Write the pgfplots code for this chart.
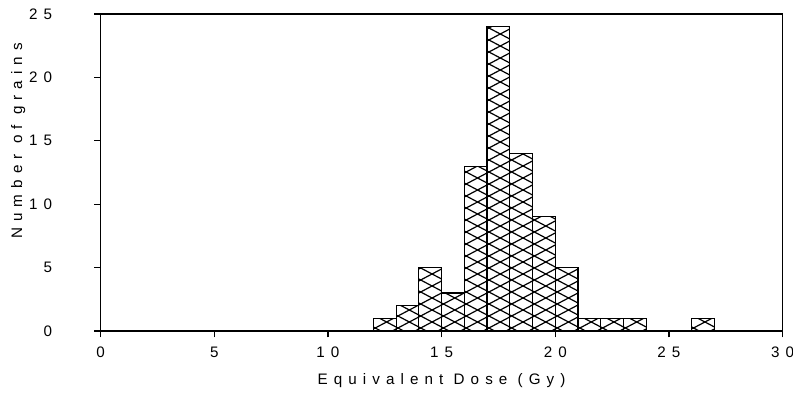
\documentclass[border=0pt]{standalone}
\usepackage{fontspec}
\setmainfont{Liberation Sans}
\usepackage{pgfplots}
\pgfplotsset{compat=1.18}
\usetikzlibrary{patterns}

% diamond cross-hatch used for the histogram bins
\pgfdeclarepatternformonly{diamondhatch}{\pgfqpoint{-0.5pt}{-0.5pt}}{\pgfqpoint{11.9pt}{6.5pt}}{\pgfqpoint{11.37pt}{6pt}}{%
  \pgfsetlinewidth{0.6pt}%
  \pgfpathmoveto{\pgfqpoint{0pt}{0pt}}\pgfpathlineto{\pgfqpoint{11.37pt}{6pt}}%
  \pgfpathmoveto{\pgfqpoint{0pt}{6pt}}\pgfpathlineto{\pgfqpoint{11.37pt}{0pt}}%
  \pgfusepath{stroke}%
}

\newcommand{\spaced}{\fontsize{7.6pt}{9pt}\selectfont\addfontfeature{LetterSpace=40}}

\begin{document}
\begin{tikzpicture}
\begin{axis}[
  name=ax,
  at={(0,0)}, anchor=south west,
  scale only axis,
  width=341pt, height=158.5pt,
  xmin=0, xmax=30, ymin=0, ymax=25,
  xtick={0,5,...,30}, ytick={0,5,...,25},
  tick align=outside,
  xtick pos=bottom, ytick pos=left,
  major tick length=3.2pt,
  axis line style={line width=0.8pt},
  tick style={line width=0.6pt, black},
  /pgf/number format/assume math mode=true,
  ticklabel style={font=\spaced},
  xticklabel style={anchor=center, yshift=-7.3pt},
  yticklabel style={anchor=east, xshift=-17.5pt},
  xlabel={Equivalent Dose (Gy)},
  ylabel={Number of grains},
  label style={font=\spaced},
  xlabel style={at={(axis description cs:0.5,0)}, anchor=center, yshift=-25pt},
  ylabel style={at={(axis description cs:-0.121,0.6)}, anchor=center},
  clip=false,
]
\addplot[ybar, bar width=1, bar shift=0pt, draw=black, line width=0.6pt,
         pattern=diamondhatch, pattern color=black]
  coordinates {
    (12.5,1) (13.5,2) (14.5,5) (15.5,3) (16.5,13) (17.5,24) (18.5,14)
    (19.5,9) (20.5,5) (21.5,1) (22.5,1) (23.5,1) (26.5,1)
  };
\end{axis}
\pgfresetboundingbox
\path (ax.south west) ++(-50.3pt,-31.5pt) coordinate (bbA);
\path (ax.south west) ++(346.2pt,165.5pt) coordinate (bbB);
\path[use as bounding box] (bbA) rectangle (bbB);
\end{tikzpicture}
\end{document}
